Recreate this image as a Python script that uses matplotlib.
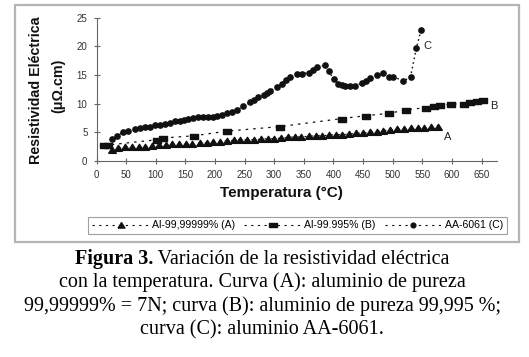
import matplotlib
matplotlib.use("Agg")
import matplotlib.pyplot as plt
from matplotlib.patches import Rectangle

# ==========================================
# DATA
# ==========================================
temp_a = [26, 37, 48, 60, 71, 82, 94, 106, 117, 128, 140, 151, 162, 174, 186, 197,
          208, 220, 232, 243, 254, 266, 277, 289, 300, 312, 323, 335, 346, 358, 370,
          381, 392, 404, 415, 427, 438, 450, 461, 473, 484, 496, 507, 519, 530, 542,
          553, 565, 576]
res_a = [2.0, 2.3, 2.4, 2.4, 2.5, 2.5, 2.6, 2.8, 2.8, 2.9, 2.9, 3.0, 3.0, 3.1, 3.2, 3.3,
         3.3, 3.5, 3.6, 3.7, 3.7, 3.7, 3.8, 3.9, 3.9, 4.0, 4.1, 4.2, 4.2, 4.3, 4.4,
         4.4, 4.5, 4.6, 4.6, 4.7, 4.8, 4.9, 5.0, 5.1, 5.3, 5.4, 5.5, 5.6, 5.7, 5.8,
         5.8, 5.9, 6.0]

temp_b = [13, 20, 102, 112, 165, 220, 310, 415, 455, 494, 522, 556, 569, 580, 599,
          621, 631, 642, 653]
res_b = [2.8, 2.8, 3.7, 4.0, 4.4, 5.2, 6.0, 7.4, 7.9, 8.3, 8.9, 9.3, 9.6, 9.7, 9.9,
         10.0, 10.3, 10.5, 10.7]

temp_c = [26, 34, 45, 54, 65, 73, 82, 90, 99, 107, 116, 124, 133, 141, 148, 155, 163,
          172, 180, 189, 196, 203, 212, 220, 228, 237, 248, 259, 266, 273, 282, 288,
          293, 304, 313, 320, 327, 338, 347, 358, 366, 373, 385, 392, 401, 408, 414,
          420, 428, 437, 448, 455, 462, 473, 484, 493, 501, 518, 530, 540, 548]
res_c = [3.8, 4.4, 5.0, 5.3, 5.6, 5.7, 5.9, 6.0, 6.2, 6.3, 6.5, 6.7, 6.9, 7.0, 7.2, 7.4,
         7.5, 7.6, 7.7, 7.7, 7.7, 7.8, 8.0, 8.3, 8.5, 8.9, 9.5, 10.2, 10.6, 11.1, 11.5,
         11.9, 12.2, 12.9, 13.5, 14.1, 14.7, 15.2, 15.2, 15.4, 15.8, 16.3, 16.7, 15.6,
         14.2, 13.5, 13.2, 13.1, 13.0, 13.1, 13.6, 14.0, 14.4, 15.0, 15.3, 14.7, 14.7,
         13.9, 14.7, 19.7, 22.9]

series_labels = ["Al-99,99999% (A)", "Al-99.995% (B)", "AA-6061 (C)"]
curve_tags = ["A", "B", "C"]
tag_pos = [(593, 4.2), (670, 9.6), (558, 20.0)]

x_ticks = list(range(0, 651, 50))
y_ticks = list(range(0, 26, 5))

caption_bold = "Figura 3."
caption_lines = [
    " Variación de la resistividad eléctrica",
    "con la temperatura. Curva (A): aluminio de pureza",
    "99,99999% = 7N; curva (B): aluminio de pureza 99,995 %;",
    "curva (C): aluminio AA-6061.",
]

# ==========================================
# FIGURE
# ==========================================
W, H = 529, 357
fig = plt.figure(figsize=(W / 100, H / 100), dpi=100)
sans = "Liberation Sans"
serif = "Liberation Serif"

# grey frame around the chart
fig.add_artist(Rectangle((15 / W, 1 - 242 / H), 504 / W, 237 / H,
                         transform=fig.transFigure, fill=False,
                         edgecolor="#b4b4b4", lw=1.6))

ax = fig.add_axes([96.5 / W, 1 - 161 / H, 400.5 / W, 143.5 / H])
ink = "#111111"
dash = (0, (2, 4))

# Excel-like markers, a bit wider than tall
wide_box = [(-1.5, -0.9), (1.5, -0.9), (1.5, 0.9), (-1.5, 0.9), (-1.5, -0.9)]
wide_tri = [(-1.2, -0.9), (1.2, -0.9), (0, 1.0), (-1.2, -0.9)]

ax.plot(temp_a, res_a, linestyle=dash, lw=0.8, color=ink,
        marker=wide_tri, ms=5.5, label=series_labels[0])
ax.plot(temp_b, res_b, linestyle=dash, lw=0.9, color=ink,
        marker=wide_box, ms=6, label=series_labels[1])
ax.plot(temp_c, res_c, linestyle=(0, (1.2, 2.2)), lw=1.0, color=ink,
        marker="o", ms=3.8, label=series_labels[2])

for tag, (tx, ty) in zip(curve_tags, tag_pos):
    ax.text(tx, ty, tag, fontsize=8, family=sans, color="#222222",
            ha="center", va="center", clip_on=False)

ax.set_xlim(0, 676)
ax.set_ylim(0, 25)
ax.set_xticks(x_ticks)
ax.set_yticks(y_ticks)
for s in ["top", "right"]:
    ax.spines[s].set_visible(False)
for s in ["left", "bottom"]:
    ax.spines[s].set_color("#666666")
    ax.spines[s].set_linewidth(0.8)
ax.tick_params(direction="inout", length=5, width=0.8, color="#666666",
               labelsize=7, labelcolor="#333333", pad=4)
for lab in ax.get_xticklabels() + ax.get_yticklabels():
    lab.set_family(sans)

# axis titles
fig.text(36 / W, 1 - 90 / H, "Resistividad Eléctrica", rotation=90,
         ha="center", va="center", fontsize=10.3, fontweight="bold",
         family=sans, color=ink)
fig.text(58 / W, 1 - 86 / H, "(μΩ.cm)", rotation=90,
         ha="center", va="center", fontsize=10.3, fontweight="bold",
         family=sans, color=ink)
fig.text(281 / W, 1 - 193 / H, "Temperatura (°C)", ha="center", va="center",
         fontsize=11, fontweight="bold", family=sans, color=ink)

# legend across the bottom of the chart box
leg = fig.legend(loc="center", ncol=3,
                 bbox_to_anchor=(297.5 / W, 1 - 225.5 / H),
                 prop={"family": sans, "size": 7.6}, handlelength=5.4,
                 handletextpad=0.25, numpoints=1, frameon=True, fancybox=False,
                 borderpad=0.35, borderaxespad=0, columnspacing=0.9,
                 markerscale=0.9)
leg.get_frame().set_edgecolor("#888888")
leg.get_frame().set_linewidth(0.8)
# all legend samples use the same dashed stroke in the original
for h in leg.get_lines():
    h.set_linestyle(dash)
    h.set_linewidth(0.8)

# caption, first line mixed bold / regular
renderer = fig.canvas.get_renderer()
cap_size = 14.5
cx = 262 / W
t_b = fig.text(0, 0, caption_bold, fontsize=cap_size, family=serif,
               fontweight="bold", va="baseline")
t_r = fig.text(0, 0, caption_lines[0], fontsize=cap_size, family=serif,
               va="baseline")
wb = t_b.get_window_extent(renderer).width / W
wr = t_r.get_window_extent(renderer).width / W
x0 = cx - (wb + wr) / 2
t_b.set_position((x0, 1 - 264 / H))
t_r.set_position((x0 + wb, 1 - 264 / H))
for i, line in enumerate(caption_lines[1:]):
    fig.text(cx, 1 - (287.5 + 23.5 * i) / H, line, fontsize=cap_size,
             family=serif, ha="center", va="baseline")

fig.savefig("out.png", dpi=100)
